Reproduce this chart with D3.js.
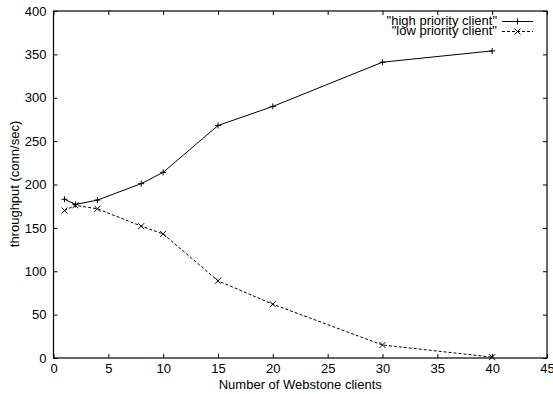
<!DOCTYPE html>
<html>
<head>
<meta charset="utf-8">
<script src="https://cdn.jsdelivr.net/npm/d3@7"></script>
<style>
  body { margin: 0; background: #fff; }
  svg text { font-family: "Liberation Sans", Arial, Helvetica, sans-serif; font-size: 13px; fill: #000; }
</style>
</head>
<body>
<div id="chart"></div>
<script>
// values
var clients = [1, 2, 4, 8, 10, 15, 20, 30, 40];
var highPriority = [183, 177, 182, 201, 214, 268, 290, 341, 354];
var lowPriority = [170, 176, 172, 152, 143, 89, 62, 15, 1];
var xTicks = [0, 5, 10, 15, 20, 25, 30, 35, 40, 45];
var yTicks = [0, 50, 100, 150, 200, 250, 300, 350, 400];
var seriesNames = ['"high priority client"', '"low priority client"'];

var width = 553, height = 394;
var margin = {top: 11, right: 6, bottom: 36, left: 53.5};
var w = width - margin.left - margin.right;
var h = height - margin.top - margin.bottom;

var svg = d3.select("#chart").append("svg")
    .attr("width", width)
    .attr("height", height);

var g = svg.append("g")
    .attr("transform", "translate(" + margin.left + "," + margin.top + ")");

var x = d3.scaleLinear().domain([0, 45]).range([0, w]);
var y = d3.scaleLinear().domain([0, 400]).range([h, 0]);

var tickLen = 4;

// bottom axis with ticks pointing inward
var xAxis = g.append("g")
    .attr("transform", "translate(0," + h + ")")
    .call(d3.axisBottom(x).tickValues(xTicks).tickSizeInner(-tickLen).tickSizeOuter(0).tickPadding(5.5));
xAxis.select(".domain").remove();

var yAxis = g.append("g")
    .call(d3.axisLeft(y).tickValues(yTicks).tickSizeInner(-tickLen).tickSizeOuter(0).tickPadding(7));
yAxis.select(".domain").remove();

// mirrored ticks on top and right
g.append("g")
    .call(d3.axisTop(x).tickValues(xTicks).tickSizeInner(-tickLen).tickSizeOuter(0).tickFormat(""))
    .select(".domain").remove();
g.append("g")
    .attr("transform", "translate(" + w + ",0)")
    .call(d3.axisRight(y).tickValues(yTicks).tickSizeInner(-tickLen).tickSizeOuter(0).tickFormat(""))
    .select(".domain").remove();

g.selectAll(".tick line").attr("stroke", "#000");
g.selectAll(".tick text").style("font-size", "13px").attr("fill", "#000");

// frame
g.append("rect")
    .attr("width", w)
    .attr("height", h)
    .attr("fill", "none")
    .attr("stroke", "#000")
    .attr("stroke-width", 1.2);

var line = d3.line()
    .x(function(d) { return x(d[0]); })
    .y(function(d) { return y(d[1]); });

var high = clients.map(function(c, i) { return [c, highPriority[i]]; });
var low = clients.map(function(c, i) { return [c, lowPriority[i]]; });

g.append("path")
    .datum(high)
    .attr("fill", "none")
    .attr("stroke", "#000")
    .attr("stroke-width", 1)
    .attr("d", line);

g.append("path")
    .datum(low)
    .attr("fill", "none")
    .attr("stroke", "#000")
    .attr("stroke-width", 1)
    .attr("stroke-dasharray", "3,2")
    .attr("d", line);

var m = 3;
function plus(sel) {
    sel.append("path")
        .attr("d", "M" + (-m) + ",0H" + m + "M0," + (-m) + "V" + m)
        .attr("stroke", "#000")
        .attr("stroke-width", 1);
}
function cross(sel) {
    sel.append("path")
        .attr("d", "M" + (-m) + "," + (-m) + "L" + m + "," + m + "M" + (-m) + "," + m + "L" + m + "," + (-m))
        .attr("stroke", "#000")
        .attr("stroke-width", 1);
}

g.selectAll(".pt-high").data(high).enter().append("g")
    .attr("transform", function(d) { return "translate(" + x(d[0]) + "," + y(d[1]) + ")"; })
    .call(plus);
g.selectAll(".pt-low").data(low).enter().append("g")
    .attr("transform", function(d) { return "translate(" + x(d[0]) + "," + y(d[1]) + ")"; })
    .call(cross);

// axis labels
svg.append("text")
    .attr("x", margin.left + w / 2)
    .attr("y", 389)
    .attr("text-anchor", "middle")
    .text("Number of Webstone clients");

svg.append("text")
    .attr("transform", "translate(19,184) rotate(-90)")
    .attr("text-anchor", "middle")
    .text("throughput (conn/sec)");

// legend
var legend = svg.append("g");
[0, 1].forEach(function(i) {
    var ly = 21.5 + i * 10;
    legend.append("text")
        .attr("x", 497)
        .attr("y", ly + 3.5)
        .attr("text-anchor", "end")
        .text(seriesNames[i]);
    var lg = legend.append("g");
    lg.append("line")
        .attr("x1", 502).attr("x2", 533)
        .attr("y1", ly).attr("y2", ly)
        .attr("stroke", "#000")
        .attr("stroke-dasharray", i === 1 ? "3,2" : null);
    lg.append("g")
        .attr("transform", "translate(517.5," + ly + ")")
        .call(i === 0 ? plus : cross);
});
</script>
</body>
</html>
